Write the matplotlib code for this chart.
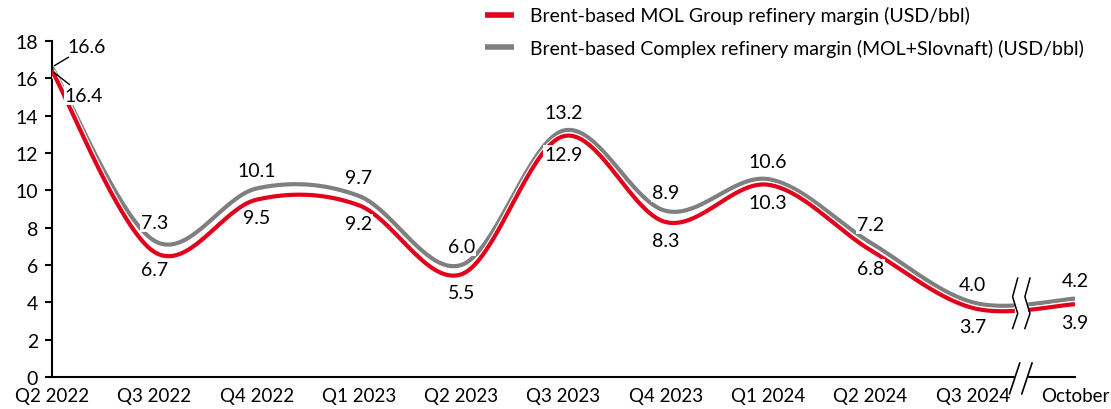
import numpy as np
import matplotlib
matplotlib.use('Agg')
import matplotlib.pyplot as plt
import matplotlib.patheffects as pe

plt.rcParams['font.family'] = ['Lato', 'DejaVu Sans']

categories = ['Q2 2022', 'Q3 2022', 'Q4 2022', 'Q1 2023', 'Q2 2023', 'Q3 2023',
              'Q4 2023', 'Q1 2024', 'Q2 2024', 'Q3 2024', 'October']
mol_group = [16.4, 6.7, 9.5, 9.2, 5.5, 12.9, 8.3, 10.3, 6.8, 3.7, 3.9]
complex_margin = [16.6, 7.3, 10.1, 9.7, 6.0, 13.2, 8.9, 10.6, 7.2, 4.0, 4.2]

RED = '#E2001A'
GRAY = '#7F7F7F'


def smooth(xs, ys, n=40):
    # excel-like smoothed line (catmull-rom as bezier)
    p = np.column_stack([xs, ys]).astype(float)
    p = np.vstack([p[0], p, p[-1]])
    out = []
    for i in range(1, len(p) - 2):
        p0, p1, p2, p3 = p[i - 1], p[i], p[i + 1], p[i + 2]
        c1 = p1 + (p2 - p0) / 6
        c2 = p2 - (p3 - p1) / 6
        t = np.linspace(0, 1, n)[:, None]
        seg = ((1 - t) ** 3) * p1 + 3 * ((1 - t) ** 2) * t * c1 + 3 * (1 - t) * t ** 2 * c2 + t ** 3 * p2
        out.append(seg if i == 1 else seg[1:])
    out = np.vstack(out)
    return out[:, 0], out[:, 1]


fig = plt.figure(figsize=(11.11, 4.10), dpi=100)
ax = fig.add_axes([0.0468, 0.078, 0.9208, 0.8196])

x = np.arange(len(categories))
outline = [pe.Stroke(linewidth=4.6, foreground='white'), pe.Normal()]

sx, sy = smooth(x, complex_margin)
ax.plot(sx, sy, color=GRAY, lw=3.0, path_effects=outline, zorder=2,
        label='Brent-based Complex refinery margin (MOL+Slovnaft) (USD/bbl)', solid_capstyle='butt')
sx, sy = smooth(x, mol_group)
ax.plot(sx, sy, color=RED, lw=3.0, path_effects=outline, zorder=3,
        label='Brent-based MOL Group refinery margin (USD/bbl)', solid_capstyle='butt')

fs = 14
box = dict(boxstyle='square,pad=0.05', fc='white', ec='none')
for i in range(len(categories)):
    if i == 0:
        ax.annotate(f'{complex_margin[i]:.1f}', (x[i], complex_margin[i]), xytext=(25, 15),
                    textcoords='offset points', ha='center', va='center', fontsize=fs,
                    bbox=box, zorder=5,
                    arrowprops=dict(arrowstyle='-', color='black', lw=1, shrinkA=2, shrinkB=2))
        ax.annotate(f'{mol_group[i]:.1f}', (x[i], mol_group[i]), xytext=(23, -18),
                    textcoords='offset points', ha='center', va='center', fontsize=fs,
                    bbox=box, zorder=5,
                    arrowprops=dict(arrowstyle='-', color='black', lw=1, shrinkA=2, shrinkB=2))
        continue
    ax.annotate(f'{complex_margin[i]:.1f}', (x[i], complex_margin[i]), xytext=(0, 13),
                textcoords='offset points', ha='center', va='center', fontsize=fs,
                bbox=box, zorder=5)
    ax.annotate(f'{mol_group[i]:.1f}', (x[i], mol_group[i]), xytext=(0, -13),
                textcoords='offset points', ha='center', va='center', fontsize=fs,
                bbox=box, zorder=5)

# break between Q3 2024 and October
bx = 9.47
ax.fill_between([bx - 0.06, bx + 0.06], 2.6, 5.6, color='white', zorder=4)
zz_y = np.array([5.3, 4.3, 3.4, 2.6])
zz_x = np.array([0.0, -0.05, 0.0, -0.05])
ax.plot(bx - 0.06 + zz_x + 0.03, zz_y, color='black', lw=1.1, zorder=4)
ax.plot(bx + 0.06 + zz_x + 0.03, zz_y, color='black', lw=1.1, zorder=4)

ax.fill_between([bx - 0.06, bx + 0.06], -0.4, 0.4, color='white', zorder=4, clip_on=False)
for dx in (-0.06, 0.06):
    ax.plot([bx + dx - 0.05, bx + dx + 0.05], [-0.9, 0.75], color='black', lw=1.2,
            zorder=5, clip_on=False)

ax.set_xlim(0, 10)
ax.set_ylim(0, 18)
ax.set_yticks(range(0, 19, 2))
ax.set_xticks(x)
ax.set_xticklabels(categories)
ax.tick_params(axis='x', length=0, labelsize=13.5, pad=7)
ax.tick_params(axis='y', length=5, width=1.5, labelsize=14, direction='out', pad=5)
for s in ('top', 'right'):
    ax.spines[s].set_visible(False)
for s in ('left', 'bottom'):
    ax.spines[s].set_linewidth(1.5)
    ax.spines[s].set_color('black')

h, l = ax.get_legend_handles_labels()
leg = fig.legend(h[::-1], l[::-1], loc='upper left', bbox_to_anchor=(0.421, 1.025),
                 frameon=False, fontsize=14, handlelength=1.5, labelspacing=0.75,
                 handletextpad=0.8)
for line in leg.get_lines():
    line.set_path_effects([])
    line.set_linewidth(4)

fig.savefig('out.png', dpi=100)
